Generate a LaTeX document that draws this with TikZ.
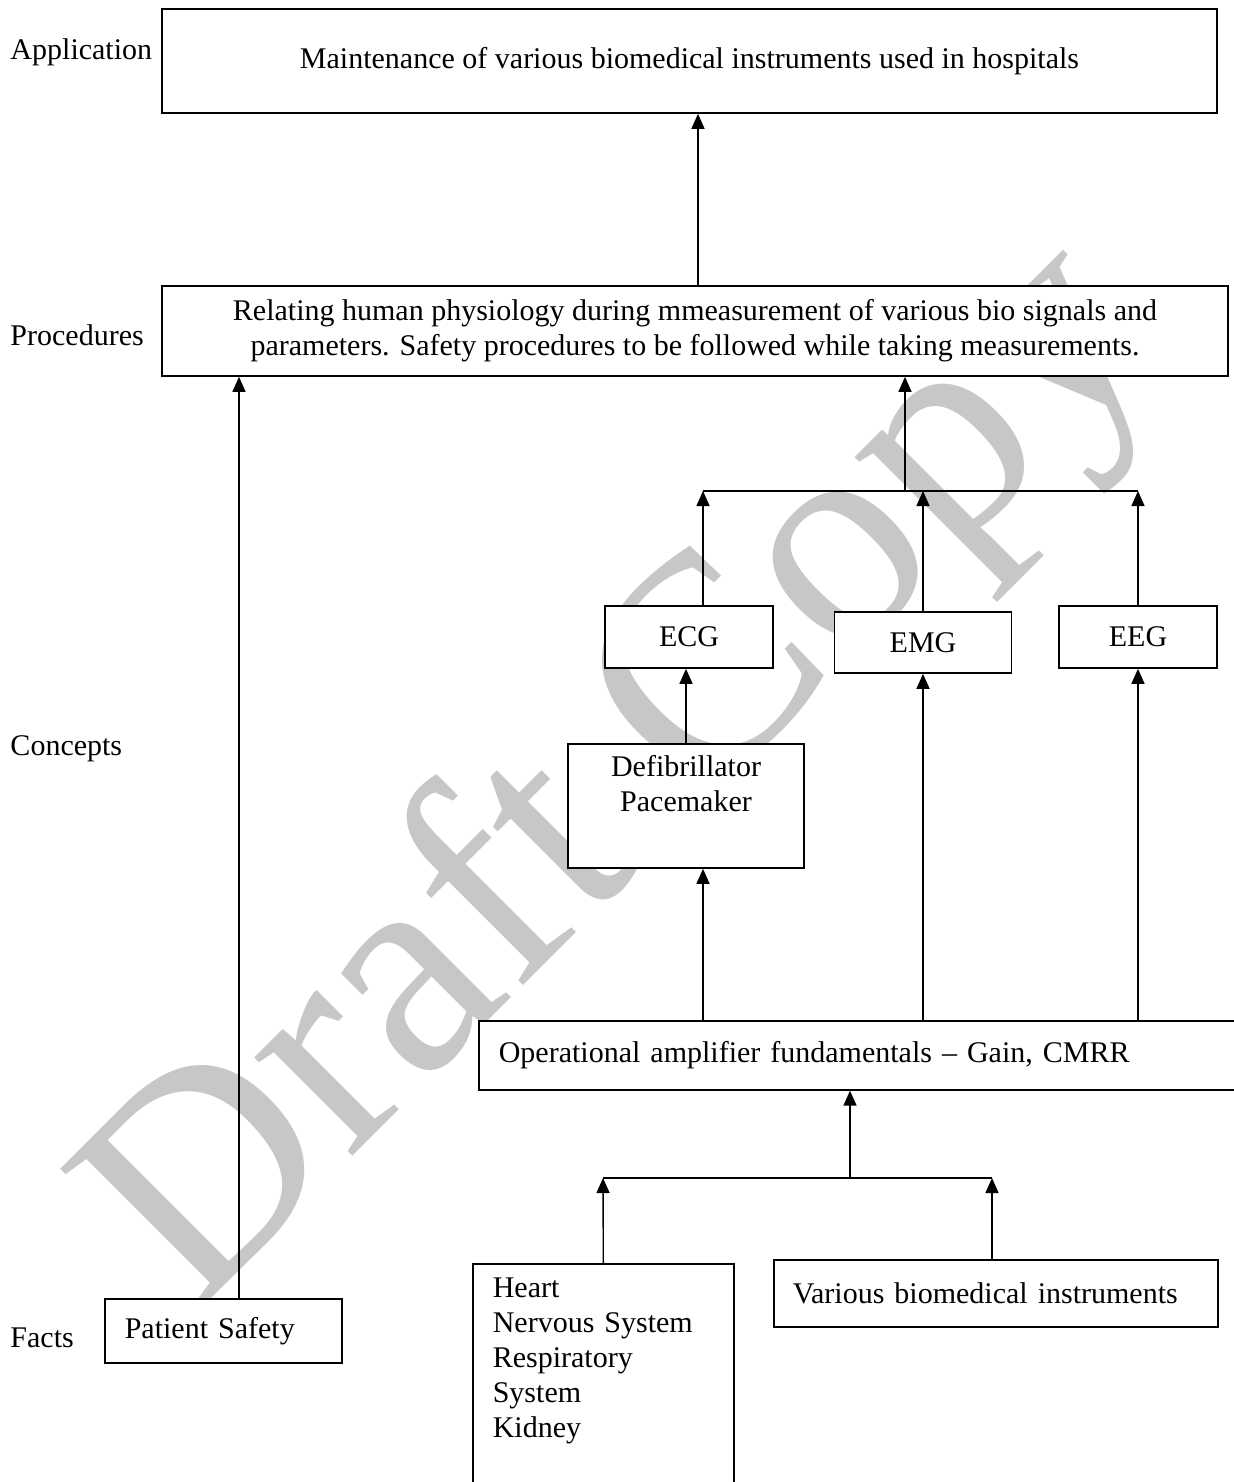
\documentclass[tikz,border=0pt]{standalone}
\usepackage{fontspec}
\setmainfont{Liberation Serif}
\usetikzlibrary{arrows.meta}

\begin{document}
\begin{tikzpicture}[
    x=0.4pt, y=-0.4pt,
    font=\fontsize{12}{14}\selectfont,
    box/.style={draw, line width=0.65pt, fill=white, inner sep=0pt, align=center},
    leftbox/.style={box, align=left, inner xsep=8pt},
    level/.style={anchor=west, inner sep=0pt},
    wire/.style={line width=0.55pt},
    arrow/.style={-{Triangle[length=6pt, width=5.2pt]}, line width=0.55pt}
]
\useasboundingbox (0,0) rectangle (1234,1482);

% watermark
\node[text=black!22, font=\fontsize{121}{121}\selectfont, rotate=45] (wm) at (626,779) {Draft Copy};

% level names
\node[level] (lapp) at (10,52) {Application};
\node[level] (lproc) at (10,335) {Procedures};
\node[level] (lcon) at (10,749) {Concepts};
\node[level] (lfact) at (10,1338) {Facts};

% boxes
\node[box, minimum width=422pt, minimum height=41.6pt] (app) at (689.5,61) {Maintenance of various biomedical instruments used in hospitals};
\node[box, minimum width=426.4pt, minimum height=36pt] (proc) at (695,331) {Relating human physiology during mmeasurement of various bio signals and\\parameters. Safety procedures to be followed while taking measurements.};
\node[box, minimum width=67.2pt, minimum height=24.8pt] (ecg) at (689,637) {ECG};
\node[box, minimum width=70.8pt, minimum height=24.4pt] (emg) at (923,642.5) {EMG};
\node[box, minimum width=63.2pt, minimum height=24.8pt] (eeg) at (1138,637) {EEG};
\node[box, minimum width=94.4pt, minimum height=49.6pt] (defib) at (686,806) {Defibrillator\\Pacemaker\\\strut};
\node[leftbox, anchor=north west, text width=292.8pt, minimum height=27.6pt] (opamp) at (478,1020) {Operational amplifier fundamentals -- Gain, CMRR};
\node[leftbox, anchor=north west, text width=88.4pt, minimum height=107.2pt] (heart) at (472,1263) {Heart\\Nervous System\\Respiratory\\System\\Kidney\\\strut\\\strut};
\node[leftbox, anchor=north west, text width=162.4pt, minimum height=26.8pt, inner xsep=7.6pt] (inst) at (773,1259) {Various biomedical instruments};
\node[leftbox, anchor=north west, text width=78.8pt, minimum height=25.6pt] (safety) at (104,1298) {Patient Safety};

% junction points
\coordinate (xapp) at (698,0);
\coordinate (xsafe) at (239,0);
\coordinate (j1l) at (703,491);
\coordinate (j1m) at (905,491);
\coordinate (j1r) at (1138,491);
\coordinate (j2l) at (603,1178);
\coordinate (j2m) at (850,1178);
\coordinate (j2r) at (992,1178);

% connectors
\draw[arrow] (xapp |- proc.north) -- (xapp |- app.south);
\draw[arrow] (xsafe |- safety.north) -- (xsafe |- proc.south);
\draw[wire] (j1l) -- (j1r);
\draw[arrow] (j1m) -- (j1m |- proc.south);
\draw[arrow] (j1l |- ecg.north) -- (j1l);
\draw[arrow] (emg.north) -- (emg.north |- j1m);
\draw[arrow] (eeg.north) -- (j1r);
\draw[arrow] (defib.north) -- (defib.north |- ecg.south);
\draw[arrow] (j1l |- opamp.north) -- (j1l |- defib.south);
\draw[arrow] (emg.south |- opamp.north) -- (emg.south);
\draw[arrow] (eeg.south |- opamp.north) -- (eeg.south);
\draw[wire] (j2l) -- (j2r);
\draw[arrow] (j2m) -- (j2m |- opamp.south);
\draw[arrow] (heart.north) -- (j2l);
\draw[arrow] (j2r |- inst.north) -- (j2r);
\end{tikzpicture}
\end{document}
